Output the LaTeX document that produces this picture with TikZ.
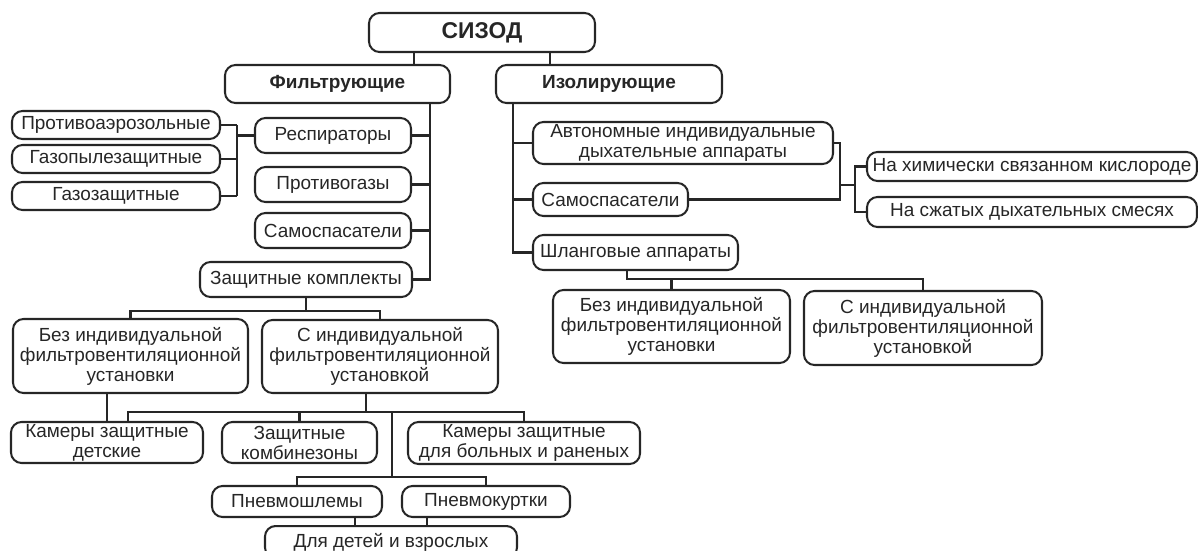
\documentclass[tikz,border=0pt]{standalone}
\usepackage{fontspec}
\setmainfont{Liberation Sans}
\usepackage{tikz}
\usetikzlibrary{calc}

\begin{document}
\begin{tikzpicture}[x=0.02cm, y=-0.02cm, line width=1.15pt, color=black!85,
		box/.style={draw, rectangle, rounded corners=6pt, inner sep=1pt, align=center, font=\fontsize{10.8}{11.4}\selectfont},
		head/.style={box, font=\fontsize{10.8}{12}\selectfont\bfseries},
		sz/.style 2 args={minimum width=#1*0.02cm, minimum height=#2*0.02cm}]
				\useasboundingbox (0,0) rectangle (1198,551);

				% top levels
				\node[head, sz={226}{39}, font=\fontsize{13}{14}\selectfont\bfseries] (sizod) at (482,32.5) {СИЗОД};
				\node[head, sz={225}{38}] (filt) at (337.5,84) {Фильтрующие};
				\node[head, sz={226}{38}] (izol) at (609,84) {Изолирующие};

				% filtering branch
				\node[box, sz={208}{28}] (aer) at (116,125) {Противоаэрозольные};
				\node[box, sz={208}{28}] (gazpyl) at (116,159) {Газопылезащитные};
				\node[box, sz={208}{28}] (gaz) at (116,196) {Газозащитные};
				\node[box, sz={156}{35}] (resp) at (333,135.5) {Респираторы};
				\node[box, sz={156}{35}] (protgaz) at (333,184.5) {Противогазы};
				\node[box, sz={156}{35}] (samf) at (333,230.5) {Самоспасатели};
				\node[box, sz={212}{35}] (zk) at (306,279.5) {Защитные комплекты};
				\node[box, sz={235}{74}] (bezL) at (130.5,356) {Без индивидуальной\\фильтровентиляционной\\установки};
				\node[box, sz={236}{73}] (sL) at (380,356.5) {С индивидуальной\\фильтровентиляционной\\установкой};
				\node[box, sz={192}{41}] (kamd) at (107,442.5) {Камеры защитные\\детские};
				\node[box, sz={155}{41}] (komb) at (299.5,442.5) {Защитные\\комбинезоны};
				\node[box, sz={232}{42}] (kamb) at (524,443) {Камеры защитные\\для больных и раненых};
				\node[box, sz={170}{31}] (pshl) at (297,501.5) {Пневмошлемы};
				\node[box, sz={168}{31}] (pkurt) at (486,501.5) {Пневмокуртки};
				\node[box, sz={252}{32}, anchor=north] (dlya) at (391,525) {Для детей и взрослых\vphantom{Д}};

				% isolating branch
				\node[box, sz={300}{42}] (avt) at (683,143) {Автономные индивидуальные\\дыхательные аппараты};
				\node[box, sz={155}{33}] (samr) at (610.5,199.5) {Самоспасатели};
				\node[box, sz={205}{35}] (shl) at (635.5,252.5) {Шланговые аппараты};
				\node[box, sz={330}{29}] (him) at (1032,166.5) {На химически связанном кислороде};
				\node[box, sz={330}{30}] (szh) at (1032,212) {На сжатых дыхательных смесях};
				\node[box, sz={237}{73}] (bezR) at (671.5,326.5) {Без индивидуальной\\фильтровентиляционной\\установки};
				\node[box, sz={238}{74}] (sR) at (923,328) {С индивидуальной\\фильтровентиляционной\\установкой};

				% top links
				\draw ($(sizod.south west)!.2!(sizod.south east)$) coordinate (t1) -- (t1 |- filt.north);
				\draw ($(sizod.south west)!.8!(sizod.south east)$) coordinate (t2) -- (t2 |- izol.north);

				% filtering spine
				\coordinate (fsp) at (430,0);
				\draw (fsp |- filt.south) |- (zk.east);
				\foreach \n in {resp, protgaz, samf}
					\draw (\n.east) -- (\n.east -| fsp);
				\coordinate (rsp) at (237,0);
				\draw (rsp |- aer.east) -- (rsp |- gaz.east);
				\foreach \n in {aer, gazpyl, gaz}
					\draw (\n.east) -- (\n.east -| rsp);
				\draw (resp.west) -- (resp.west -| rsp);

				% kits
				\coordinate (kbus) at (0,311);
				\draw (zk.south) -- (zk.south |- kbus);
				\draw (bezL.north) -- (bezL.north |- kbus) -- (sL.north |- kbus) -- (sL.north);
				\coordinate (cbus) at (0,412);
				\draw (kamd.north) -- (kamd.north |- bezL.south);
				\draw ($(sL.south west)!.44!(sL.south east)$) coordinate (s1) -- (s1 |- cbus);
				\draw ($(kamd.north west)!.61!(kamd.north east)$) coordinate (k1) -- (k1 |- cbus) -- (kamb.north |- cbus) -- (kamb.north);
				\draw (komb.north) -- (komb.north |- cbus);
				\coordinate (pbus) at (392,477);
				\draw (pbus |- cbus) -- (pbus);
				\draw (pshl.north) -- (pshl.north |- pbus) -- (pkurt.north |- pbus) -- (pkurt.north);
				\draw ($(pshl.south west)!.835!(pshl.south east)$) coordinate (p1) -- (p1 |- dlya.north);
				\draw ($(pkurt.south west)!.155!(pkurt.south east)$) coordinate (p2) -- (p2 |- dlya.north);

				% isolating spine
				\coordinate (isp) at (513,0);
				\draw (isp |- izol.south) |- (shl.west);
				\foreach \n in {avt, samr}
					\draw (\n.west) -- (\n.west -| isp);
				\coordinate (asp) at (840,0);
				\draw (avt.east) -| (asp |- samr.east) -- (samr.east);
				\coordinate (hsp) at (855,185);
				\draw (hsp -| asp) -- (hsp);
				\draw (him.west) -| (hsp |- szh.west) -- (szh.west);
				\coordinate (sbus) at (0,279);
				\draw ($(shl.south west)!.46!(shl.south east)$) coordinate (h1) -- (h1 |- sbus) -- (sR.north |- sbus) -- (sR.north);
				\draw (bezR.north) -- (bezR.north |- sbus);
			\end{tikzpicture}
\end{document}
